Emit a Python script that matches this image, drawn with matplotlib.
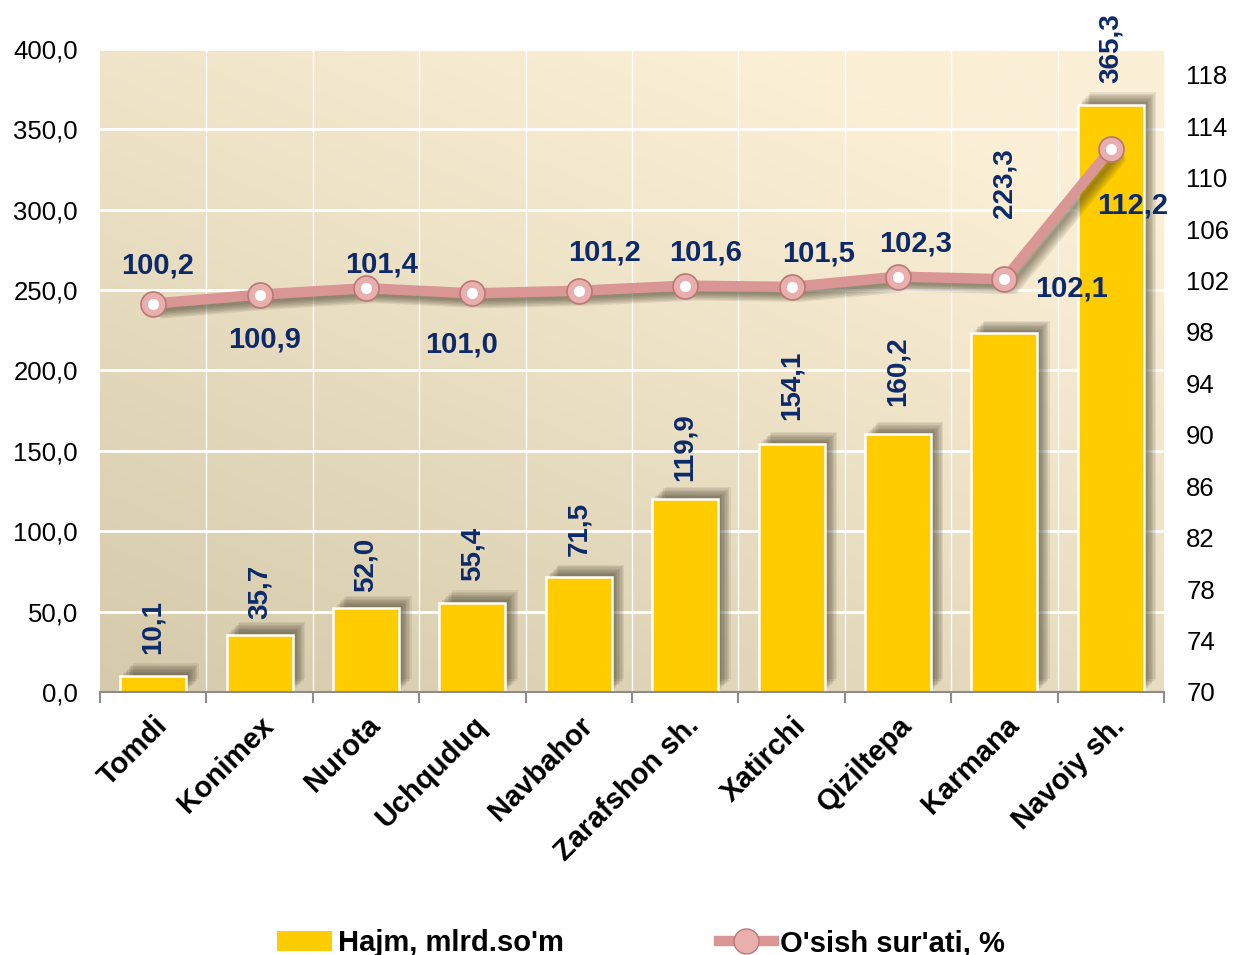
import numpy as np
import matplotlib
matplotlib.use('Agg')
from matplotlib import pyplot as plt
from matplotlib import patheffects as pe
from matplotlib.lines import Line2D
from matplotlib.patches import Patch

plt.rcParams['font.family'] = ['Liberation Sans', 'DejaVu Sans']

# Data
districts = ['Tomdi', 'Konimex', 'Nurota', 'Uchquduq', 'Navbahor',
             'Zarafshon sh.', 'Xatirchi', 'Qiziltepa', 'Karmana', 'Navoiy sh.']
hajm = [10.1, 35.7, 52.0, 55.4, 71.5, 119.9, 154.1, 160.2, 223.3, 365.3]
osish = [100.2, 100.9, 101.4, 101.0, 101.2, 101.6, 101.5, 102.3, 102.1, 112.2]

# label offsets (pixels)
bar_lbl_off = [22, 16, 16, 22, 21, 18, 24, 28, 115, 22]
line_lbl_off = [(4, 38), (5, -45), (16, 24), (-11, -51), (26, 38),
                (20, 33), (27, 33), (18, 33), (67, -9), (22, -56)]

navy = '#0C2A6A'
bar_col = '#FFCC00'
line_col = '#D99694'

fig = plt.figure(figsize=(12.35, 9.55), dpi=100)
ax = fig.add_axes([0.081, 0.2754, 0.8615, 0.6733])
ax2 = ax.twinx()

x = np.arange(len(districts))

# background gradient (gy=0 is bottom)
gy, gx = np.mgrid[0:1:200j, 0:1:200j]
t = 1 - np.clip(0.5 * gx + 0.7 * gy, 0, 1)
light = np.array([251, 239, 214]) / 255
dark = np.array([214, 202, 172]) / 255
img = light[None, None, :] * (1 - t[..., None]) + dark[None, None, :] * t[..., None]
ax.imshow(img, extent=[-0.5, len(x) - 0.5, 0, 400], origin='lower',
          aspect='auto', zorder=0, interpolation='bilinear')

ax.set_xlim(-0.5, len(x) - 0.5)
ax.set_ylim(0, 400)
ax2.set_ylim(70, 120)

# grid
for yv in range(50, 401, 50):
    ax.axhline(yv, color='white', lw=2, zorder=1)
for xv in np.arange(0.5, len(x) - 0.5, 1):
    ax.axvline(xv, color='white', lw=1, zorder=1)

# bars with soft shadow
shadow = [pe.SimplePatchShadow(offset=(o, o), shadow_rgbFace='#3a3520', alpha=0.09)
          for o in (2, 3, 4, 5, 6, 7, 8, 9)]
bars = ax.bar(x, hajm, width=0.62, color=bar_col, edgecolor='white',
              linewidth=1.8, zorder=2)
for b in bars:
    b.set_path_effects(shadow + [pe.Normal()])

for xi, v, off in zip(x, hajm, bar_lbl_off):
    ax.annotate(f'{v:.1f}'.replace('.', ','), (xi, v), xytext=(0, off),
                textcoords='offset pixels', rotation=90, ha='center',
                va='bottom', fontsize=20, fontweight='bold', color=navy,
                annotation_clip=False)

# growth line
line_shadow = [pe.SimpleLineShadow(offset=(o, -o), shadow_color='#3a3520', alpha=0.11)
               for o in (2, 3, 4, 5, 6, 7)]
ax2.plot(x, osish, color=line_col, lw=7.5, solid_capstyle='round', zorder=3,
         path_effects=line_shadow + [pe.Normal()])
ax2.plot(x, osish, 'o', ms=18, mfc='#E8AFAD', mec='#B97877', mew=1.2, zorder=4)
ax2.plot(x, osish, 'o', ms=8, mfc='white', mec='none', zorder=5)

for xi, v, off in zip(x, osish, line_lbl_off):
    ax2.annotate(f'{v:.1f}'.replace('.', ','), (xi, v), xytext=off,
                 textcoords='offset pixels', ha='center', va='center',
                 fontsize=21, fontweight='bold', color=navy)

# axes styling
ax.set_yticks(range(0, 401, 50))
ax.set_yticklabels([f'{v},0' for v in range(0, 401, 50)], fontsize=18.5)
ax2.set_yticks(range(70, 119, 4))
ax2.set_yticklabels([str(v) for v in range(70, 119, 4)], fontsize=18.5)
ax.tick_params(axis='y', length=0, pad=16)
ax2.tick_params(axis='y', length=0, pad=16)

ax.set_xticks(np.arange(-0.5, len(x), 1), minor=True)
ax.set_xticks(x)
ax.set_xticklabels(districts, rotation=45, ha='right', rotation_mode='anchor',
                   fontsize=21, fontweight='bold')
ax.tick_params(axis='x', which='major', length=0, pad=14)
ax.tick_params(axis='x', which='minor', length=8, color='#8c8c8c', width=1.5)

for a in (ax, ax2):
    for s in ('top', 'left', 'right'):
        a.spines[s].set_visible(False)
    a.spines['bottom'].set_color('#8c8c8c')
    a.spines['bottom'].set_linewidth(1.5)
ax2.spines['bottom'].set_visible(False)

# legend
handles = [Patch(facecolor=bar_col, edgecolor='none'),
           Line2D([0], [0], color=line_col, lw=7.5, marker='o', ms=18,
                  mfc='#E8AFAD', mec='#B97877')]
fig.legend(handles, ['Hajm, mlrd.so\'m', 'O\'sish sur\'ati, %'],
           loc='lower center', bbox_to_anchor=(0.519, -0.030), ncol=2,
           frameon=False, columnspacing=5.3, handlelength=1.9, handletextpad=0.2,
           prop={'size': 21, 'weight': 'bold'})

fig.savefig('out.png', dpi=100)
